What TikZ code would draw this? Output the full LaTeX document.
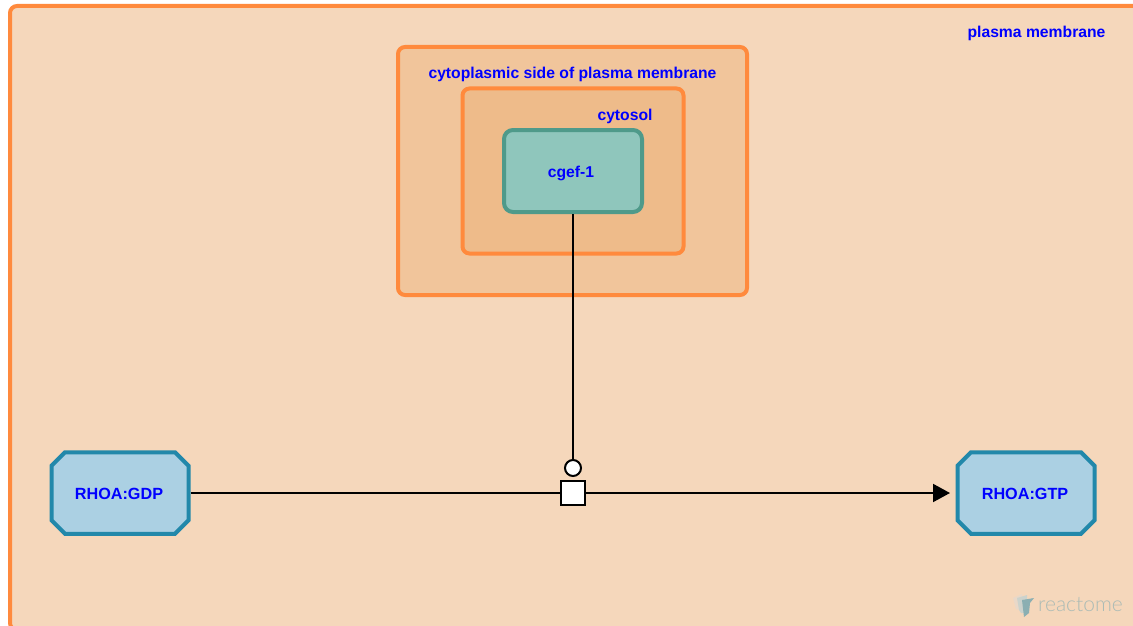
\documentclass[tikz,border=0pt]{standalone}
\usepackage{fontspec}
\setmainfont{Liberation Sans}
\newfontfamily\logofont{Lato Light}
\usetikzlibrary{calc,arrows.meta}
\definecolor{compfill}{HTML}{F5D7BB}
\definecolor{compline}{HTML}{FF8A3D}
\definecolor{compfillb}{HTML}{F1C59B}
\definecolor{compfillc}{HTML}{EEBB8A}
\definecolor{protfill}{HTML}{8FC6BC}
\definecolor{protline}{HTML}{4F9A8A}
\definecolor{cplxfill}{HTML}{ABD0E3}
\definecolor{cplxline}{HTML}{2288AA}
\newcommand{\chamferbox}[1]{%
  \draw[cplxshape] ($(#1.north west)+(13.5,0)$) -- ($(#1.north east)+(-13.5,0)$) -- ($(#1.north east)+(0,13.5)$)
    -- ($(#1.south east)+(0,-13.5)$) -- ($(#1.south east)+(-13.5,0)$) -- ($(#1.south west)+(13.5,0)$)
    -- ($(#1.south west)+(0,-13.5)$) -- ($(#1.north west)+(0,13.5)$) -- cycle;}
\tikzset{
  x=1pt,y=-1pt,
  lbl/.style={text=blue,font=\fontsize{15.7}{18}\selectfont\bfseries,inner sep=0pt,anchor=base},
  cplxlbl/.style={text=blue,font=\fontsize{16.2}{18}\selectfont\bfseries,inner sep=0pt,anchor=base},
  compbox/.style={draw=compline,line width=4pt,rounded corners=7pt,inner sep=0pt,anchor=center},
  protbox/.style={draw=protline,fill=protfill,line width=4pt,rounded corners=9pt,inner sep=0pt,anchor=center,minimum width=138pt,minimum height=82pt},
  cplxbox/.style={inner sep=0pt,outer sep=0pt,anchor=center,minimum width=137pt,minimum height=81.5pt},
  cplxshape/.style={draw=cplxline,fill=cplxfill,line width=4pt},
  rxnbox/.style={draw=black,fill=white,line width=2pt,inner sep=0pt,minimum width=24pt,minimum height=24pt,anchor=center},
  catcircle/.style={draw=black,fill=white,circle,line width=2pt,inner sep=0pt,minimum size=16pt,anchor=center},
  edge/.style={draw=black,line width=2pt},
}
\begin{document}
\begin{tikzpicture}
\useasboundingbox (0,0) rectangle (1133,626);
\begin{scope}
\clip (0,0) rectangle (1133,626);
\node[compbox,fill=compfill,minimum width=1140pt,minimum height=624pt] (pm) at (580,318) {};
\end{scope}
\node[compbox,fill=compfillb,minimum width=349pt,minimum height=248pt] (cs) at (572.5,171) {};
\node[compbox,fill=compfillc,minimum width=221pt,minimum height=165pt] (cy) at (573,171) {};
\node[lbl] (pmlabel) at (1036.5,37.5) {plasma membrane};
\node[lbl] (cslabel) at (572.5,78) {cytoplasmic side of plasma membrane};
\node[lbl] (cylabel) at (625,120) {cytosol};
\node[protbox] (cgef) at (573,171) {};
\node[lbl] (cgeflabel) at (571,177) {cgef-1};
\node[cplxbox] (gdp) at (120,493) {};
\chamferbox{gdp}
\node[cplxlbl] (gdplabel) at (119,499) {RHOA:GDP};
\node[cplxbox] (gtp) at (1026,493) {};
\chamferbox{gtp}
\node[cplxlbl] (gtplabel) at (1025,499) {RHOA:GTP};
\coordinate (tip) at (950,493);
\node[rxnbox] (rxn) at (573,493) {};
\node[catcircle] (cat) at (573,468) {};
\draw[edge,shorten <=2pt] (gdp) -- (rxn);
\draw[edge,-{Triangle[length=17pt,width=18pt]}] (rxn) -- (tip);
\draw[edge] (cgef) -- (cat);
% logo
\fill[gray!18!compfill!70!white] (1013,598) -- (1022,594) -- (1024,611) -- (1016,609) -- cycle;
\fill[cplxline!30!compfill!70!white] (1017,598) -- (1027,595) -- (1028,613) -- (1021,613) -- (1019,610) -- cycle;
\fill[cplxline!50!compfill] (1022,600) -- (1034,598) -- (1030,603) -- (1029,613) -- (1024,617) -- cycle;
\node[text=cplxline!35!compfill,font=\logofont\fontsize{21}{24}\selectfont,inner sep=0pt,anchor=base] (logo) at (1080.5,611) {reactome};
\end{tikzpicture}
\end{document}
